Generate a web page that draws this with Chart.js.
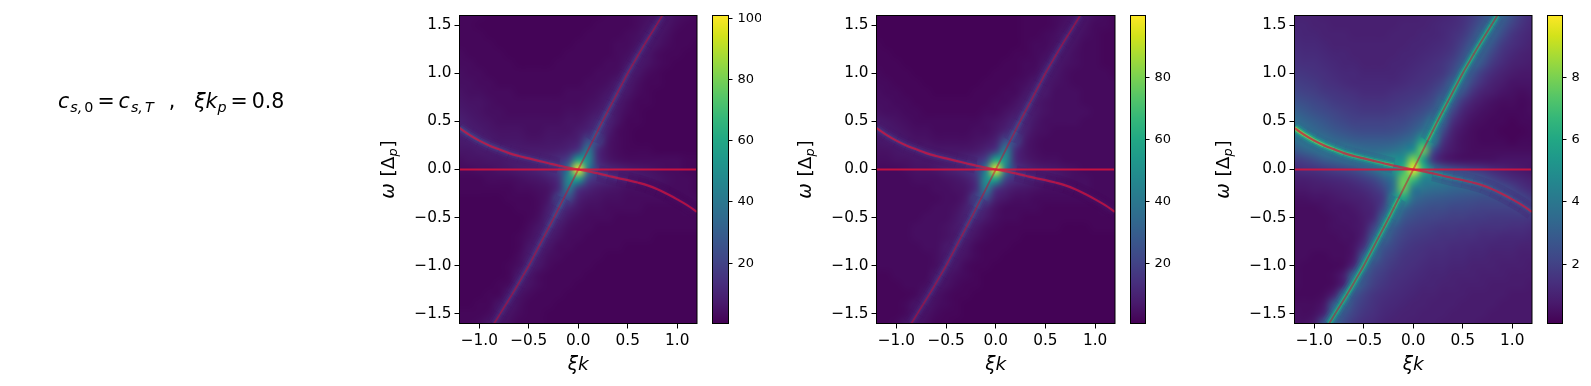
<!DOCTYPE html>
<html>
<head>
<meta charset="utf-8">
<style>
html, body { margin: 0; padding: 0; background: #fff; width: 1591px; height: 386px; overflow: hidden; }
canvas { position: absolute; top: 0; }
</style>
<script src="https://cdn.jsdelivr.net/npm/chart.js@4/dist/chart.umd.min.js"></script>
</head>
<body>
<script>
// grid of the heat maps, columns are xi*k and rows are omega from the top down
const kGrid = [-1.2,-1.1,-1.0,-0.9,-0.8,-0.7,-0.6,-0.5,-0.4,-0.3,-0.2,-0.1,0,0.1,0.2,0.3,0.4,0.5,0.6,0.7,0.8,0.9,1.0,1.1,1.2];
const omegaGrid = [1.6,1.5,1.4,1.3,1.2,1.1,1.0,0.9,0.8,0.7,0.6,0.5,0.4,0.3,0.2,0.1,0,-0.1,-0.2,-0.3,-0.4,-0.5,-0.6,-0.7,-0.8,-0.9,-1.0,-1.1,-1.2,-1.3,-1.4,-1.5,-1.6];

const heatLeft = [
[2,2,2,1,1,1,1,1,1,1,1,1,1,1,1,2,2,2,3,4,6,6,4,3,2],
[2,2,1,1,1,1,1,1,1,1,1,1,1,1,2,2,2,2,3,5,7,5,3,2,2],
[2,2,2,1,1,1,1,1,1,1,1,1,1,2,2,2,2,3,4,7,6,4,2,2,2],
[2,2,2,2,1,1,1,1,1,1,1,1,2,2,2,2,3,3,5,7,5,3,2,2,1],
[3,2,2,2,2,1,1,1,1,1,1,2,2,2,2,2,3,4,7,6,3,2,2,1,1],
[3,3,2,2,2,2,1,1,1,1,2,2,2,2,2,3,3,6,7,5,3,2,1,1,1],
[4,3,3,2,2,2,2,2,2,2,2,2,2,2,3,3,4,8,6,3,2,1,1,1,1],
[4,4,3,3,2,2,2,2,2,2,2,2,2,3,3,4,7,7,4,2,2,1,1,1,1],
[5,4,4,3,3,3,2,2,2,2,2,3,3,3,4,6,8,6,3,2,1,1,1,1,1],
[6,5,5,4,3,3,3,3,3,3,3,3,3,4,5,8,7,4,2,2,1,1,1,1,1],
[7,6,5,4,4,3,3,3,3,3,3,4,4,5,7,10,6,3,2,1,1,1,1,1,1],
[9,7,6,5,4,4,4,4,4,4,4,5,5,7,11,10,5,2,2,1,1,1,1,1,1],
[9,8,7,6,5,5,5,4,4,5,5,5,7,10,16,8,3,2,1,1,1,1,1,1,1],
[7,8,8,7,6,6,6,5,5,6,6,7,9,24,22,6,3,2,1,1,1,1,1,1,1],
[6,6,7,7,8,8,7,7,7,7,8,10,16,42,12,5,3,2,2,2,1,1,1,1,1],
[4,5,5,6,6,7,8,9,10,11,13,20,58,48,12,6,4,3,3,3,3,3,3,2,2],
[3,3,4,4,5,6,7,8,10,13,18,40,100,40,16,11,9,7,6,5,4,3,3,2,2],
[2,2,2,3,3,3,4,5,6,8,13,48,58,20,13,11,9,8,7,6,5,4,3,3,2],
[2,2,2,2,2,2,3,3,4,5,12,42,16,10,7,6,5,4,4,4,4,3,3,3,2],
[1,1,1,1,1,2,2,2,3,6,22,24,9,6,5,4,4,3,3,3,3,3,3,3,3],
[1,1,1,1,1,1,2,2,3,8,16,10,6,4,4,3,3,3,3,2,2,2,2,3,3],
[1,1,1,1,1,1,1,2,4,10,11,6,4,3,3,3,2,2,2,2,2,2,2,2,2],
[1,1,1,1,1,1,1,3,6,10,7,4,3,3,2,2,2,2,2,2,2,2,2,2,2],
[1,1,1,1,1,1,2,4,7,8,5,3,3,2,2,2,2,2,2,2,1,1,1,1,1],
[1,1,1,1,1,1,2,6,8,6,3,3,2,2,2,2,2,1,1,1,1,1,1,1,1],
[1,1,1,1,1,1,3,7,7,4,3,2,2,2,2,1,1,1,1,1,1,1,1,1,1],
[1,1,1,1,1,2,4,8,6,3,2,2,2,2,1,1,1,1,1,1,1,1,1,1,1],
[1,1,1,1,1,2,7,6,3,2,2,2,2,1,1,1,1,1,1,1,1,1,1,1,1],
[1,1,1,1,2,3,7,5,3,2,2,2,1,1,1,1,1,1,1,1,1,1,1,1,1],
[1,1,1,2,2,7,5,3,2,2,2,1,1,1,1,1,1,1,1,1,1,1,1,1,1],
[1,1,2,2,6,7,4,2,2,2,1,1,1,1,1,1,1,1,1,1,1,1,1,1,1],
[2,2,2,3,7,5,3,2,2,1,1,1,1,1,1,1,1,1,1,1,1,1,1,1,1],
[2,2,3,6,6,4,2,2,2,1,1,1,1,1,1,1,1,1,1,1,1,1,1,1,1]
];

const heatMiddle = [
[1,1,1,1,1,1,1,1,1,1,1,1,1,1,1,2,2,2,3,4,6,6,4,3,2],
[1,1,1,1,1,1,1,1,1,1,1,1,1,1,1,2,2,2,3,5,7,5,3,3,2],
[1,1,1,1,1,1,1,1,1,1,1,1,1,1,1,2,2,3,4,7,6,4,3,2,2],
[2,1,1,1,1,1,1,1,1,1,1,1,1,1,1,2,3,3,5,7,5,3,3,2,2],
[2,2,1,1,1,1,1,1,1,1,1,1,1,1,2,2,3,4,7,6,4,3,3,2,2],
[2,2,2,1,1,1,1,1,1,1,1,1,1,2,2,3,3,6,7,5,4,3,3,2,2],
[3,2,2,2,1,1,1,1,1,1,1,1,2,2,2,3,4,8,6,4,3,3,3,3,2],
[3,3,2,2,2,1,1,1,1,1,1,2,2,2,3,4,7,7,5,4,3,3,3,3,3],
[4,3,3,2,2,2,1,1,1,1,2,2,2,3,3,6,8,7,4,4,4,3,3,3,3],
[4,4,3,3,2,2,2,2,2,2,2,2,3,3,5,8,7,5,4,4,4,3,3,3,3],
[5,4,4,3,3,2,2,2,2,2,2,3,3,5,7,10,7,5,4,4,4,4,3,3,3],
[7,6,5,4,3,3,3,3,3,3,3,4,5,7,11,10,6,4,4,4,4,3,3,3,3],
[8,7,6,5,4,4,3,3,3,3,4,4,6,10,16,9,5,4,3,3,3,3,3,3,3],
[6,7,7,6,5,5,4,4,4,4,5,6,9,24,22,7,4,3,3,3,3,3,3,3,3],
[5,5,6,7,7,7,6,6,6,6,7,10,16,44,13,6,4,3,3,3,3,3,3,3,3],
[4,4,5,5,6,6,7,8,9,11,13,20,60,50,12,7,5,4,4,3,3,3,3,3,3],
[3,3,3,4,5,5,6,8,10,13,18,42,98,42,16,11,8,7,6,5,4,3,3,3,3],
[3,3,3,3,4,4,4,5,6,8,14,50,60,20,13,11,9,8,7,5,4,4,3,3,3],
[3,3,3,3,3,3,4,4,5,6,13,44,16,10,7,6,5,4,4,4,4,4,3,3,3],
[3,3,3,3,3,3,3,4,4,7,22,24,9,6,4,4,3,3,3,3,3,3,3,3,3],
[3,3,3,3,3,3,4,4,5,9,16,10,5,3,3,3,3,2,2,2,2,2,2,3,3],
[3,3,3,3,3,4,4,4,6,10,11,7,4,3,3,2,2,2,2,2,2,2,2,2,2],
[3,3,3,3,4,4,4,5,7,10,7,4,3,2,2,2,2,2,2,1,1,1,2,2,2],
[3,3,3,3,4,4,4,5,7,8,5,3,2,2,2,1,1,1,1,1,1,1,1,1,1],
[3,3,3,3,3,4,4,7,8,6,3,2,2,2,1,1,1,1,1,1,1,1,1,1,1],
[3,3,3,3,3,3,4,7,7,5,3,2,2,1,1,1,1,1,1,1,1,1,1,1,1],
[3,3,3,3,3,3,4,8,6,3,2,2,1,1,1,1,1,1,1,1,1,1,1,1,1],
[2,2,3,3,3,3,7,6,4,3,2,1,1,1,1,1,1,1,1,1,1,1,1,1,1],
[2,2,2,3,3,4,7,5,3,2,2,1,1,1,1,1,1,1,1,1,1,1,1,1,1],
[2,2,2,2,3,7,5,3,2,2,1,1,1,1,1,1,1,1,1,1,1,1,1,1,1],
[2,2,2,3,6,7,4,3,2,1,1,1,1,1,1,1,1,1,1,1,1,1,1,1,1],
[2,2,2,3,7,5,3,2,2,1,1,1,1,1,1,1,1,1,1,1,1,1,1,1,1],
[2,2,3,6,6,4,2,2,1,1,1,1,1,1,1,1,1,1,1,1,1,1,1,1,1]
];

const heatRight = [
[1.0,1.0,1.0,.9,.9,.9,.9,.9,.9,.9,.9,.9,.9,1.0,1.0,1.1,1.2,1.4,1.8,2.4,3.2,3.2,2.4,1.7,1.3],
[1.1,1.1,1.0,1.0,.9,.9,.9,.9,.9,.9,.9,1.0,1.0,1.0,1.1,1.2,1.3,1.5,2.0,2.8,3.6,2.8,2.0,1.5,1.2],
[1.2,1.1,1.1,1.0,1.0,1.0,.9,.9,.9,.9,1.0,1.0,1.0,1.1,1.1,1.2,1.4,1.7,2.4,3.5,3.3,2.3,1.6,1.3,1.1],
[1.3,1.2,1.2,1.1,1.0,1.0,1.0,1.0,1.0,1.0,1.0,1.0,1.1,1.1,1.2,1.3,1.5,2.0,2.9,3.6,2.7,1.8,1.4,1.2,1.0],
[1.4,1.3,1.3,1.2,1.1,1.1,1.0,1.0,1.0,1.0,1.0,1.1,1.1,1.2,1.3,1.4,1.7,2.4,3.5,3.1,2.1,1.5,1.2,1.0,.9],
[1.5,1.4,1.4,1.3,1.2,1.1,1.1,1.0,1.0,1.0,1.1,1.1,1.2,1.3,1.4,1.6,2.0,2.9,3.5,2.6,1.7,1.3,1.0,.9,.8],
[1.7,1.6,1.5,1.4,1.3,1.2,1.2,1.1,1.1,1.1,1.1,1.2,1.3,1.4,1.5,1.7,2.4,3.6,2.7,1.8,1.3,1.0,.8,.7,.7],
[1.9,1.8,1.7,1.5,1.4,1.3,1.2,1.2,1.2,1.2,1.2,1.3,1.4,1.5,1.7,2.1,3.3,3.4,2.1,1.4,1.0,.8,.6,.6,.6],
[2.2,2.0,1.9,1.7,1.6,1.5,1.4,1.3,1.3,1.3,1.4,1.5,1.6,1.7,2.0,2.7,3.6,2.6,1.5,1.0,.8,.6,.5,.4,.5],
[2.6,2.4,2.2,2.0,1.8,1.7,1.6,1.5,1.5,1.5,1.6,1.7,1.8,2.0,2.4,3.5,3.0,1.6,1.0,.7,.5,.4,.4,.3,.4],
[3.1,2.8,2.5,2.3,2.1,1.9,1.8,1.7,1.7,1.7,1.8,1.9,2.1,2.4,3.0,3.8,2.1,1.1,.7,.5,.4,.3,.3,.3,.4],
[3.7,3.3,3.0,2.7,2.4,2.2,2.0,2.0,2.0,2.0,2.1,2.2,2.5,3.0,4.2,3.4,1.4,.8,.5,.4,.3,.3,.2,.3,.3],
[4.2,3.8,3.4,3.1,2.8,2.6,2.4,2.3,2.3,2.3,2.4,2.6,3.0,3.8,5.2,2.4,1.0,.6,.4,.3,.3,.2,.2,.2,.3],
[3.6,4.0,4.2,3.8,3.4,3.2,3.0,2.9,2.9,2.9,3.0,3.3,3.8,6.0,5.0,1.6,.8,.5,.4,.3,.3,.3,.2,.3,.3],
[2.8,3.2,3.6,4.0,4.2,4.2,3.8,3.6,3.5,3.6,3.8,4.2,5.0,7.8,2.6,1.1,.7,.5,.4,.4,.4,.4,.4,.4,.4],
[1.8,2.0,2.4,2.9,3.2,3.6,4.0,4.4,4.6,4.8,5.0,5.2,8.2,5.6,1.6,.8,.6,.5,.5,.5,.5,.6,.6,.6,.6],
[1.3,1.4,1.5,1.7,1.9,2.1,2.4,2.9,3.6,4.4,5.0,6.6,9.9,6.6,4.2,3.0,2.4,2.0,1.7,1.5,1.2,1.0,.8,.7,.6],
[.9,.9,1.0,1.1,1.2,1.3,1.5,1.8,2.2,3.0,4.0,7.8,7.0,4.6,4.4,4.0,3.8,3.6,3.2,2.6,2.0,1.6,1.3,1.1,.9],
[.7,.7,.8,.8,.9,1.0,1.1,1.3,1.6,2.2,3.8,7.8,4.2,3.9,3.6,3.5,3.3,3.2,3.1,3.0,2.8,2.5,2.0,1.5,1.2],
[.5,.5,.6,.6,.7,.8,.9,1.0,1.3,1.8,5.0,6.0,3.6,3.1,2.9,2.8,2.7,2.6,2.5,2.4,2.4,2.4,2.4,2.2,1.7],
[.4,.4,.4,.5,.6,.6,.7,.9,1.1,2.2,5.2,3.6,2.8,2.6,2.4,2.4,2.2,2.2,2.1,2.0,2.0,2.0,2.0,2.1,2.3],
[.4,.4,.4,.4,.5,.6,.6,.8,1.2,3.4,4.2,2.8,2.4,2.2,2.1,2.0,1.9,1.9,1.8,1.8,1.7,1.7,1.7,1.7,1.6],
[.4,.4,.4,.4,.5,.5,.6,.8,2.0,3.8,3.0,2.3,2.0,1.9,1.8,1.7,1.7,1.6,1.6,1.5,1.5,1.5,1.4,1.4,1.3],
[.4,.4,.4,.4,.4,.5,.5,1.0,3.0,3.5,2.5,2.0,1.8,1.7,1.6,1.5,1.5,1.4,1.4,1.3,1.3,1.2,1.2,1.2,1.1],
[.4,.4,.4,.4,.4,.4,.6,1.5,3.6,2.7,2.2,1.8,1.6,1.5,1.4,1.4,1.3,1.3,1.2,1.2,1.1,1.1,1.1,1.0,1.0],
[.4,.4,.3,.3,.4,.4,.7,3.0,3.4,2.3,1.9,1.6,1.5,1.4,1.3,1.3,1.2,1.2,1.1,1.1,1.0,1.0,1.0,.9,.9],
[.4,.3,.3,.3,.3,.4,1.2,3.6,2.5,2.0,1.7,1.5,1.4,1.3,1.2,1.2,1.1,1.1,1.0,1.0,1.0,.9,.9,.9,.8],
[.4,.3,.3,.3,.4,.9,3.5,2.9,2.1,1.8,1.5,1.4,1.3,1.2,1.1,1.1,1.0,1.0,1.0,.9,.9,.9,.8,.8,.8],
[.4,.3,.3,.3,.4,1.1,3.6,2.6,1.9,1.6,1.4,1.3,1.2,1.1,1.1,1.0,1.0,.9,.9,.9,.8,.8,.8,.8,.7],
[.3,.3,.3,.4,1.0,3.6,2.7,2.0,1.6,1.4,1.3,1.2,1.1,1.0,1.0,.9,.9,.9,.8,.8,.8,.8,.7,.7,.7],
[.4,.4,.4,.7,3.0,3.5,2.3,1.8,1.5,1.3,1.2,1.1,1.0,1.0,.9,.9,.9,.8,.8,.8,.8,.7,.7,.7,.7],
[.5,.4,.5,1.1,3.6,2.7,2.0,1.6,1.4,1.2,1.1,1.0,1.0,.9,.9,.9,.8,.8,.8,.8,.7,.7,.7,.7,.7],
[.5,.5,.8,2.9,3.2,2.3,1.7,1.4,1.3,1.1,1.0,1.0,.9,.9,.9,.8,.8,.8,.8,.7,.7,.7,.7,.7,.7]
];

// the three red curves
const steepK = [-0.85,-0.79,-0.73,-0.67,-0.612,-0.556,-0.5,-0.449,-0.398,-0.347,-0.296,-0.245,-0.196,-0.147,-0.098,-0.049,0,0.049,0.098,0.147,0.196,0.245,0.296,0.347,0.398,0.449,0.5,0.556,0.612,0.67,0.73,0.79,0.85];
const steepOmega = [-1.6,-1.5,-1.4,-1.3,-1.2,-1.1,-1.0,-0.9,-0.8,-0.7,-0.6,-0.5,-0.4,-0.3,-0.2,-0.1,0,0.1,0.2,0.3,0.4,0.5,0.6,0.7,0.8,0.9,1.0,1.1,1.2,1.3,1.4,1.5,1.6];
const curveK = [-1.2,-1.1,-1.0,-0.9,-0.8,-0.7,-0.6,-0.5,-0.4,-0.3,-0.2,-0.1,0,0.1,0.2,0.3,0.4,0.5,0.6,0.7,0.8,0.9,1.0,1.1,1.2];
const curveOmega = [0.43,0.36,0.30,0.25,0.21,0.17,0.14,0.115,0.09,0.065,0.04,0.02,0,-0.02,-0.04,-0.065,-0.09,-0.11,-0.135,-0.165,-0.205,-0.255,-0.31,-0.37,-0.44];
const flatK = [-1.2,1.19];
const flatOmega = [0,0];

// heat value on the crest under each red curve, null where the grid shows the central peak
const steepCrestLeft = [11,12,13,14,15,15,16,16,17,18,20,22,25,30,null,null,null,null,null,30,25,22,20,18,17,16,16,15,15,14,13,12,11];
const steepCrestMiddle = [11,11,12,13,14,14,15,15,16,17,19,21,24,30,null,null,null,null,null,30,24,21,19,17,16,15,15,14,14,13,12,11,11];
const steepCrestRight = [6.2,6.4,6.5,6.6,6.6,6.6,6.6,6.6,6.6,6.6,6.8,6.8,7.0,7.2,null,null,null,null,null,7.2,7.0,6.8,6.8,6.6,6.6,6.6,6.6,6.6,6.6,6.5,6.5,6.4,6.2];
const curveCrestLeft = [22,21,20,19,18,17,16,16,16,17,19,null,null,null,19,16,12,8,6,5,5,4,4,4,4];
const curveCrestMiddle = [16,16,15,15,14,14,14,14,14,15,18,null,null,null,17,14,11,8,7,6,5,5,5,5,5];
const curveCrestRight = [8.3,8.2,8.0,7.7,7.4,7.2,7.0,6.9,6.9,7.0,7.4,null,null,null,5.6,5.0,4.5,4.1,3.8,3.5,3.2,3.0,2.8,2.6,2.5];

const xTicks = [-1,-0.5,0,0.5,1];
const yTicks = [-1.5,-1,-0.5,0,0.5,1,1.5];
const barTicksLeft = [20,40,60,80,100];
const barTicksMiddle = [20,40,60,80];
const barTicksRight = [2,4,6,8];
const barRangeLeft = [0.3,100.9];
const barRangeMiddle = [0.55,99.9];
const barRangeRight = [0.09,10.0];

const viridis = ['#440154','#481a6c','#472f7d','#414487','#39568c','#31688e','#2a788e','#23888e','#1f988b','#22a884','#35b779','#54c568','#7ad151','#a5db36','#d2e21b','#fde725'];

// layers of the soft band round a crest: line width, share of the crest value, opacity
const bandLayers = [[16,0.42,0.3],[11,0.6,0.45],[7,0.78,0.65],[4,0.95,0.85]];

const FONT = '"DejaVu Sans"';
Chart.defaults.font.family = FONT;
Chart.defaults.color = '#000';
Chart.defaults.animation = false;

function hexToRgb(h) {
    return [parseInt(h.slice(1,3),16), parseInt(h.slice(3,5),16), parseInt(h.slice(5,7),16)];
}
const viridisRgb = viridis.map(hexToRgb);

function colorAt(t) {
    t = Math.min(1, Math.max(0, t));
    let p = t * (viridisRgb.length - 1);
    let i = Math.min(Math.floor(p), viridisRgb.length - 2);
    let f = p - i;
    return viridisRgb[i].map(function (c, n) { return c + (viridisRgb[i+1][n] - c) * f; });
}

function makeHeatImage(rows, range) {
    let off = document.createElement('canvas');
    off.width = kGrid.length;
    off.height = omegaGrid.length;
    let c = off.getContext('2d');
    let img = c.createImageData(off.width, off.height);
    rows.forEach(function (row, j) {
        row.forEach(function (v, i) {
            let rgb = colorAt((v - range[0]) / (range[1] - range[0]));
            let o = (j * off.width + i) * 4;
            img.data[o] = rgb[0]; img.data[o+1] = rgb[1]; img.data[o+2] = rgb[2]; img.data[o+3] = 255;
        });
    });
    c.putImageData(img, 0, 0);
    return off;
}

// text with pieces of different style, used for the math labels
function drawRuns(ctx, runs, x, y, size, rotate) {
    ctx.save();
    ctx.translate(x, y);
    if (rotate) ctx.rotate(-Math.PI / 2);
    ctx.fillStyle = '#000';
    ctx.textBaseline = 'alphabetic';
    ctx.textAlign = 'left';
    let total = 0;
    let fontOf = function (r) { return (r.it ? 'italic ' : '') + (r.sub ? size * 0.7 : size) + 'px ' + FONT; };
    runs.forEach(function (r) { ctx.font = fontOf(r); total += ctx.measureText(r.t).width + (r.gap || 0); });
    let pos = rotate ? -total / 2 : 0;
    runs.forEach(function (r) {
        ctx.font = fontOf(r);
        pos += r.gap || 0;
        ctx.fillText(r.t, pos, r.sub ? size * 0.2 : 0);
        pos += ctx.measureText(r.t).width;
    });
    ctx.restore();
}

const omegaLabel = [{t:'ω',it:1},{t:' [',gap:1},{t:'Δ'},{t:'p',it:1,sub:1},{t:']',gap:1}];
const noteLabel = [{t:'c',it:1},{t:'s,',it:1,sub:1,gap:1},{t:'0',sub:1,gap:2},{t:'=',gap:4},{t:'c',it:1,gap:4},{t:'s,',it:1,sub:1,gap:1},{t:'T',it:1,sub:1,gap:2},{t:',',gap:15},{t:'ξ',it:1,gap:19},{t:'k',it:1},{t:'p',it:1,sub:1},{t:'=',gap:4},{t:'0.8',gap:4}];

function toPoints(xs, ys) {
    return xs.map(function (x, i) { return {x: x, y: ys[i]}; });
}

function bandDatasets(xs, ys, crest, range, order) {
    return bandLayers.map(function (layer, n) {
        return {
            data: toPoints(xs, ys),
            showLine: true,
            pointRadius: 0,
            borderWidth: layer[0],
            borderColor: 'transparent',
            order: order - n,
            segment: {
                borderColor: function (c) {
                    let a = crest[c.p0DataIndex], b = crest[c.p1DataIndex];
                    if (a === null || b === null) return 'transparent';
                    let v = (a + b) / 2 * layer[1];
                    let rgb = colorAt((v - range[0]) / (range[1] - range[0]));
                    return 'rgba(' + Math.round(rgb[0]) + ',' + Math.round(rgb[1]) + ',' + Math.round(rgb[2]) + ',' + layer[2] + ')';
                }
            }
        };
    });
}

function heatPanel(conf) {
    let canvas = document.createElement('canvas');
    canvas.width = conf.right + 5 - conf.canvasLeft;
    canvas.height = 386;
    canvas.style.left = conf.canvasLeft + 'px';
    document.body.appendChild(canvas);
    let image = makeHeatImage(conf.rows, conf.range);

    let panelPlugin = {
        id: 'panel',
        beforeDatasetsDraw: function (chart) {
            let a = chart.chartArea, ctx = chart.ctx;
            let x0 = chart.scales.x.getPixelForValue(kGrid[0] - 0.05);
            let x1 = chart.scales.x.getPixelForValue(kGrid[kGrid.length-1] + 0.05);
            let y0 = chart.scales.y.getPixelForValue(omegaGrid[0] + 0.05);
            let y1 = chart.scales.y.getPixelForValue(omegaGrid[omegaGrid.length-1] - 0.05);
            ctx.save();
            ctx.beginPath();
            ctx.rect(a.left, a.top, a.right - a.left, a.bottom - a.top);
            ctx.clip();
            ctx.imageSmoothingEnabled = true;
            ctx.imageSmoothingQuality = 'high';
            ctx.drawImage(image, x0, y0, x1 - x0, y1 - y0);
            ctx.restore();
        },
        afterDatasetsDraw: function (chart) {
            let a = chart.chartArea, ctx = chart.ctx;
            ctx.save();
            ctx.strokeStyle = '#000';
            ctx.lineWidth = 1;
            ctx.strokeRect(a.left, a.top, a.right - a.left, a.bottom - a.top);
            ctx.restore();
            drawRuns(ctx, omegaLabel, a.left - 66, (a.top + a.bottom) / 2, 18.5, true);
            if (conf.note) drawRuns(ctx, noteLabel, 58, 108, 20.5, false);
        }
    };

    let redLines = [
        { data: toPoints(flatK, flatOmega), showLine: true, pointRadius: 0, borderColor: 'rgba(220,20,60,0.85)', borderWidth: 2.2, order: 1 },
        { data: toPoints(curveK, curveOmega), showLine: true, pointRadius: 0, borderColor: 'rgba(220,20,60,0.7)', borderWidth: 2.2, tension: 0.4, order: 2 },
        { data: toPoints(steepK, steepOmega), showLine: true, pointRadius: 0, borderColor: 'rgba(200,10,50,0.5)', borderWidth: 1.8, tension: 0.4, order: 3 },
    ];

    return new Chart(canvas, {
        type: 'scatter',
        data: {
            datasets: redLines
                .concat(bandDatasets(steepK, steepOmega, conf.steepCrest, conf.range, 10))
                .concat(bandDatasets(curveK, curveOmega, conf.curveCrest, conf.range, 20))
        },
        options: {
            responsive: false,
            layout: { padding: { left: 0, right: 5, top: 15.5, bottom: 0 } },
            plugins: { legend: { display: false }, tooltip: { enabled: false } },
            scales: {
                x: {
                    min: -1.2,
                    max: 1.2,
                    afterBuildTicks: function (s) { s.ticks = xTicks.map(function (v) { return {value: v}; }); },
                    afterFit: function (s) { s.height = 62.5; },
                    border: { display: false },
                    grid: { drawOnChartArea: false, tickLength: 5, tickColor: '#000' },
                    ticks: {
                        maxRotation: 0,
                        font: { size: 15.3 },
                        padding: 3,
                        callback: function (v) { return v.toFixed(1).replace('-', '\u2212'); }
                    },
                    title: { display: true, text: 'ξk', font: { size: 18.5, style: 'italic' }, padding: { top: 2, bottom: 10 } }
                },
                y: {
                    min: -1.6,
                    max: 1.6,
                    afterBuildTicks: function (s) { s.ticks = yTicks.map(function (v) { return {value: v}; }); },
                    afterFit: function (s) { s.width = conf.left - conf.canvasLeft; },
                    border: { display: false },
                    grid: { drawOnChartArea: false, tickLength: 5, tickColor: '#000' },
                    ticks: {
                        font: { size: 15.3 },
                        padding: 3,
                        callback: function (v) { return v.toFixed(1).replace('-', '\u2212'); }
                    }
                }
            }
        },
        plugins: [panelPlugin]
    });
}

function colorBar(conf) {
    let canvasLeft = Math.floor(conf.left) - 5;
    let canvas = document.createElement('canvas');
    canvas.width = Math.ceil(conf.right) + 32 - canvasLeft;
    if (canvasLeft + canvas.width > 1591) canvas.width = 1591 - canvasLeft;
    canvas.height = 386;
    canvas.style.left = canvasLeft + 'px';
    document.body.appendChild(canvas);

    let barPlugin = {
        id: 'bar',
        beforeDatasetsDraw: function (chart) {
            let a = chart.chartArea, ctx = chart.ctx, s = chart.scales.y;
            let g = ctx.createLinearGradient(0, s.getPixelForValue(conf.range[0]), 0, s.getPixelForValue(conf.range[1]));
            viridis.forEach(function (c, i) { g.addColorStop(i / (viridis.length - 1), c); });
            ctx.save();
            ctx.fillStyle = g;
            ctx.fillRect(a.left, a.top, a.right - a.left, a.bottom - a.top);
            ctx.strokeStyle = '#000';
            ctx.lineWidth = 1;
            ctx.strokeRect(a.left, a.top, a.right - a.left, a.bottom - a.top);
            ctx.restore();
        }
    };

    return new Chart(canvas, {
        type: 'scatter',
        data: { datasets: [] },
        options: {
            responsive: false,
            layout: { padding: { left: conf.left - canvasLeft, right: 0, top: 15.5, bottom: 62.5 } },
            plugins: { legend: { display: false }, tooltip: { enabled: false } },
            scales: {
                x: { display: false },
                y: {
                    position: 'right',
                    min: conf.range[0],
                    max: conf.range[1],
                    afterBuildTicks: function (s) { s.ticks = conf.ticks.map(function (v) { return {value: v}; }); },
                    afterFit: function (s) { s.width = canvas.width - (conf.right - canvasLeft); },
                    border: { display: false },
                    grid: { drawOnChartArea: false, tickLength: 4, tickColor: '#000' },
                    ticks: {
                        font: { size: 13 },
                        padding: 5,
                        callback: function (v) { return String(v); }
                    }
                }
            }
        },
        plugins: [barPlugin]
    });
}

heatPanel({ canvasLeft: 0, left: 459.5, right: 697.5, rows: heatLeft, range: barRangeLeft, steepCrest: steepCrestLeft, curveCrest: curveCrestLeft, note: true });
heatPanel({ canvasLeft: 780, left: 876.5, right: 1115.5, rows: heatMiddle, range: barRangeMiddle, steepCrest: steepCrestMiddle, curveCrest: curveCrestMiddle });
heatPanel({ canvasLeft: 1200, left: 1294.5, right: 1532.5, rows: heatRight, range: barRangeRight, steepCrest: steepCrestRight, curveCrest: curveCrestRight });
colorBar({ left: 712.5, right: 728.5, range: barRangeLeft, ticks: barTicksLeft });
colorBar({ left: 1130.5, right: 1145.5, range: barRangeMiddle, ticks: barTicksMiddle });
colorBar({ left: 1547.5, right: 1562.5, range: barRangeRight, ticks: barTicksRight });
</script>
</body>
</html>
